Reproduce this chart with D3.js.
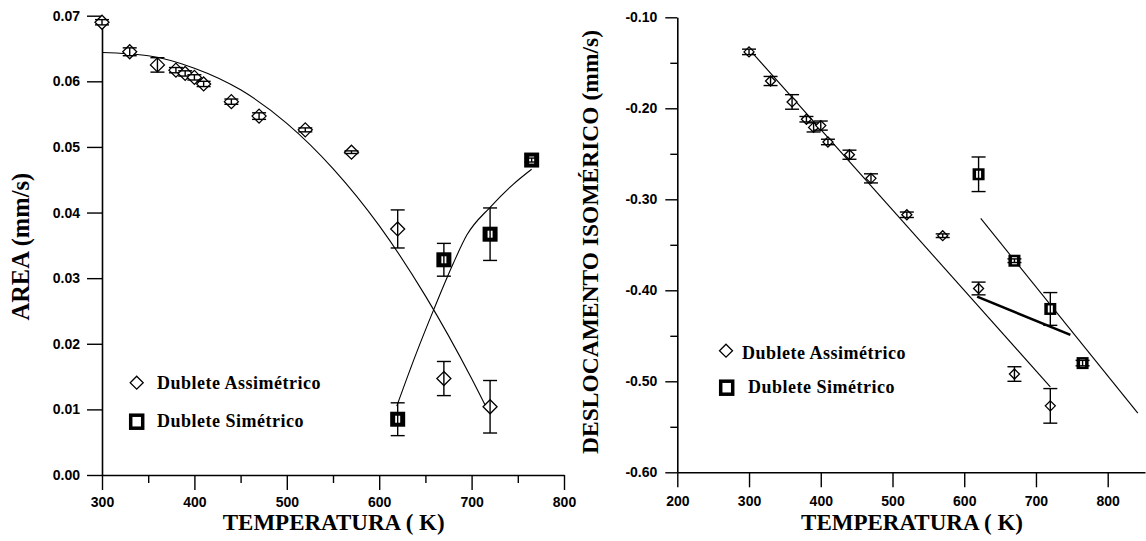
<!DOCTYPE html>
<html>
<head>
<meta charset="utf-8">
<script src="https://cdn.jsdelivr.net/npm/d3@7"></script>
<style>
  body { margin: 0; background: #fff; }
  svg { display: block; }
  .tick text { font-family: "Liberation Sans", Arial, sans-serif; font-weight: bold; font-size: 14px; fill: #000; }
  .title { font-family: "Liberation Serif", "Times New Roman", serif; font-weight: bold; font-size: 23px; fill: #000; }
  .legend { font-family: "Liberation Serif", "Times New Roman", serif; font-weight: bold; font-size: 18px; letter-spacing: 0.5px; fill: #000; }
</style>
</head>
<body>
<svg id="chart" width="1146" height="541"></svg>
<script>
// Measurement temperatures (K)
const tempsAssim = [300, 330, 360, 380, 390, 400, 410, 440, 470, 520, 570, 620, 670, 720];
const tempsSim = [620, 670, 720, 765];

// Area of the asymmetric / symmetric doublets (mm/s)
const areaAssim = [0.0690, 0.0645, 0.0625, 0.0617, 0.0612, 0.0606, 0.0596, 0.0569, 0.0547, 0.0526, 0.0492, 0.0375, 0.0147, 0.0104];
const areaAssimErr = [0.0004, 0.0006, 0.0011, 0.0004, 0.0004, 0.0004, 0.0004, 0.0004, 0.0005, 0.0003, 0.0002, 0.0029, 0.0026, 0.0040];
const areaSim = [0.0085, 0.0328, 0.0367, 0.0480];
const areaSimErr = [0.0025, 0.0025, 0.0040, 0.0003];

// Fitted trend curves for the area
const areaFitAssimT = [300, 350, 400, 450, 500, 550, 600, 650, 700, 718];
const areaFitAssimV = [0.0644, 0.0639, 0.0620, 0.0587, 0.0536, 0.0467, 0.0380, 0.0273, 0.0147, 0.0097];
const areaFitSimT = [619, 640, 659, 680, 695, 720, 745, 765];
const areaFitSimV = [0.0105, 0.0185, 0.0252, 0.0322, 0.0366, 0.0408, 0.0443, 0.0466];

// Isomer shift of both doublets (mm/s)
const shiftAssim = [-0.138, -0.170, -0.193, -0.212, -0.221, -0.219, -0.237, -0.251, -0.277, -0.317, -0.340, -0.398, -0.492, -0.527];
const shiftAssimErr = [0.003, 0.005, 0.008, 0.003, 0.005, 0.005, 0.003, 0.005, 0.005, 0.003, 0.002, 0.007, 0.008, 0.019];
const shiftSim = [-0.2725, -0.3675, -0.4205, -0.480];
const shiftSimErr = [0.019, 0.002, 0.018, 0.003];

// Linear fits for the isomer shift
const shiftFitAssimT = [300, 720];
const shiftFitAssimV = [-0.135, -0.506];
const shiftFitSimT = [623, 842];
const shiftFitSimV = [-0.321, -0.535];
const shiftFitMixT = [618, 748];
const shiftFitMixV = [-0.407, -0.449];

// Tick values
const areaXTicks = [300, 400, 500, 600, 700, 800];
const areaXMinor = [350, 450, 550, 650, 750];
const areaYTicks = [0, 0.01, 0.02, 0.03, 0.04, 0.05, 0.06, 0.07];
const shiftXTicks = [200, 300, 400, 500, 600, 700, 800];
const shiftYTicks = [-0.6, -0.5, -0.4, -0.3, -0.2, -0.1];
const shiftYMinor = [-0.55, -0.45, -0.35, -0.25, -0.15];

const legendLabels = ["Dublete Assimétrico", "Dublete Simétrico"];
const xTitle = "TEMPERATURA ( K)";

const svg = d3.select("#chart");

function styleAxis(g) {
  g.select(".domain").attr("stroke", "#000").attr("stroke-width", 1.6);
  g.selectAll(".tick line").attr("stroke", "#000").attr("stroke-width", 1.4);
}

function diamond(g, cx, cy, r) {
  g.append("path")
    .attr("d", `M${cx},${cy - r}L${cx + r},${cy}L${cx},${cy + r}L${cx - r},${cy}Z`)
    .attr("fill", "#fff").attr("stroke", "#000").attr("stroke-width", 1.3);
}

function square(g, cx, cy, s) {
  g.append("rect").attr("x", cx - s / 2).attr("y", cy - s / 2).attr("width", s).attr("height", s)
    .attr("fill", "#000");
  g.append("rect").attr("x", cx - 2.5).attr("y", cy - 3.5).attr("width", 5).attr("height", 7)
    .attr("fill", "#fff");
}

function errorBar(g, cx, y0, y1, cap) {
  g.append("line").attr("x1", cx).attr("x2", cx).attr("y1", y0).attr("y2", y1)
    .attr("stroke", "#000").attr("stroke-width", 1.4);
  [y0, y1].forEach(y => g.append("line")
    .attr("x1", cx - cap).attr("x2", cx + cap).attr("y1", y).attr("y2", y)
    .attr("stroke", "#000").attr("stroke-width", 1.4));
}

/* ---------------- Left panel: AREA ---------------- */
const xL = d3.scaleLinear().domain([300, 800]).range([102, 564]);
const yL = d3.scaleLinear().domain([0, 0.07]).range([475, 15.7]);
const left = svg.append("g");

left.append("g").attr("transform", `translate(0,${yL(0)})`)
  .call(d3.axisBottom(xL).tickValues(areaXMinor).tickSize(8).tickSizeOuter(0).tickFormat(""))
  .call(g => g.select(".domain").remove())
  .call(styleAxis);
left.append("g").attr("transform", `translate(0,${yL(0)})`)
  .call(d3.axisBottom(xL).tickValues(areaXTicks).tickSize(15).tickSizeOuter(0).tickPadding(7)
    .tickFormat(d => String(d)))
  .call(styleAxis);
left.append("g").attr("transform", `translate(${xL(300)},0)`)
  .call(d3.axisLeft(yL).tickValues(areaYTicks).tickSize(15).tickSizeOuter(0).tickPadding(7)
    .tickFormat(d => d.toFixed(2)))
  .call(styleAxis);

const curve = d3.line().curve(d3.curveMonotoneX);
left.append("path")
  .attr("d", curve(areaFitAssimT.map((t, i) => [xL(t), yL(areaFitAssimV[i])])))
  .attr("fill", "none").attr("stroke", "#000").attr("stroke-width", 1.1);
left.append("path")
  .attr("d", curve(areaFitSimT.map((t, i) => [xL(t), yL(areaFitSimV[i])])))
  .attr("fill", "none").attr("stroke", "#000").attr("stroke-width", 1.1);

tempsAssim.forEach((t, i) => {
  diamond(left, xL(t), yL(areaAssim[i]), 7);
  errorBar(left, xL(t), yL(areaAssim[i] + areaAssimErr[i]), yL(areaAssim[i] - areaAssimErr[i]), 7);
});
tempsSim.forEach((t, i) => {
  square(left, xL(t), yL(areaSim[i]), 15);
  errorBar(left, xL(t), yL(areaSim[i] + areaSimErr[i]), yL(areaSim[i] - areaSimErr[i]), 7);
});

diamond(left, 136.7, 382.7, 6.5);
left.append("text").attr("class", "legend").attr("x", 157).attr("y", 389).text(legendLabels[0]);
left.append("rect").attr("x", 130.7).attr("y", 415.2).attr("width", 12).attr("height", 13)
  .attr("fill", "none").attr("stroke", "#000").attr("stroke-width", 3.5);
left.append("text").attr("class", "legend").attr("x", 157).attr("y", 427).text(legendLabels[1]);

left.append("text").attr("class", "title").attr("text-anchor", "middle").style("font-size", "24.5px")
  .attr("transform", "translate(29,246.7) rotate(-90)").text("AREA (mm/s)");
left.append("text").attr("class", "title").attr("text-anchor", "middle")
  .attr("x", 333.7).attr("y", 530).text(xTitle);

/* ---------------- Right panel: isomer shift ---------------- */
const xR = d3.scaleLinear().domain([200, 852]).range([677.3, 1145]);
const yR = d3.scaleLinear().domain([-0.6, -0.1]).range([472.3, 17.3]);
const right = svg.append("g");

right.append("g").attr("transform", `translate(0,${yR(-0.6)})`)
  .call(d3.axisBottom(xR).tickValues(shiftXTicks).tickSize(15).tickSizeOuter(0).tickPadding(9)
    .tickFormat(d => String(d)))
  .call(styleAxis);
right.append("g").attr("transform", `translate(${xR(200)},0)`)
  .call(d3.axisLeft(yR).tickValues(shiftYMinor).tickSize(7).tickSizeOuter(0).tickFormat(""))
  .call(g => g.select(".domain").remove())
  .call(styleAxis);
right.append("g").attr("transform", `translate(${xR(200)},0)`)
  .call(d3.axisLeft(yR).tickValues(shiftYTicks).tickSize(12).tickSizeOuter(0).tickPadding(8)
    .tickFormat(d => d.toFixed(2)))
  .call(styleAxis);

const straight = d3.line();
right.append("path")
  .attr("d", straight(shiftFitAssimT.map((t, i) => [xR(t), yR(shiftFitAssimV[i])])))
  .attr("fill", "none").attr("stroke", "#000").attr("stroke-width", 1.1);
right.append("path")
  .attr("d", straight(shiftFitSimT.map((t, i) => [xR(t), yR(shiftFitSimV[i])])))
  .attr("fill", "none").attr("stroke", "#000").attr("stroke-width", 1.1);
right.append("path")
  .attr("d", straight(shiftFitMixT.map((t, i) => [xR(t), yR(shiftFitMixV[i])])))
  .attr("fill", "none").attr("stroke", "#000").attr("stroke-width", 2.6);

tempsAssim.forEach((t, i) => {
  diamond(right, xR(t), yR(shiftAssim[i]), 5);
  errorBar(right, xR(t), yR(shiftAssim[i] + shiftAssimErr[i]), yR(shiftAssim[i] - shiftAssimErr[i]), 7);
});
tempsSim.forEach((t, i) => {
  square(right, xR(t), yR(shiftSim[i]), 12);
  errorBar(right, xR(t), yR(shiftSim[i] + shiftSimErr[i]), yR(shiftSim[i] - shiftSimErr[i]), 7);
});

diamond(right, 726, 350.7, 6.5);
right.append("text").attr("class", "legend").attr("x", 742).attr("y", 359).text(legendLabels[0]);
right.append("rect").attr("x", 720.7).attr("y", 381.2).attr("width", 12).attr("height", 13)
  .attr("fill", "none").attr("stroke", "#000").attr("stroke-width", 3.5);
right.append("text").attr("class", "legend").attr("x", 748).attr("y", 393).text(legendLabels[1]);

right.append("text").attr("class", "title").attr("text-anchor", "middle").style("font-size", "23.5px")
  .attr("transform", "translate(598,242) rotate(-90)").text("DESLOCAMENTO ISOMÉRICO (mm/s)");
right.append("text").attr("class", "title").attr("text-anchor", "middle")
  .attr("x", 912).attr("y", 530).text(xTitle);
</script>
</body>
</html>
